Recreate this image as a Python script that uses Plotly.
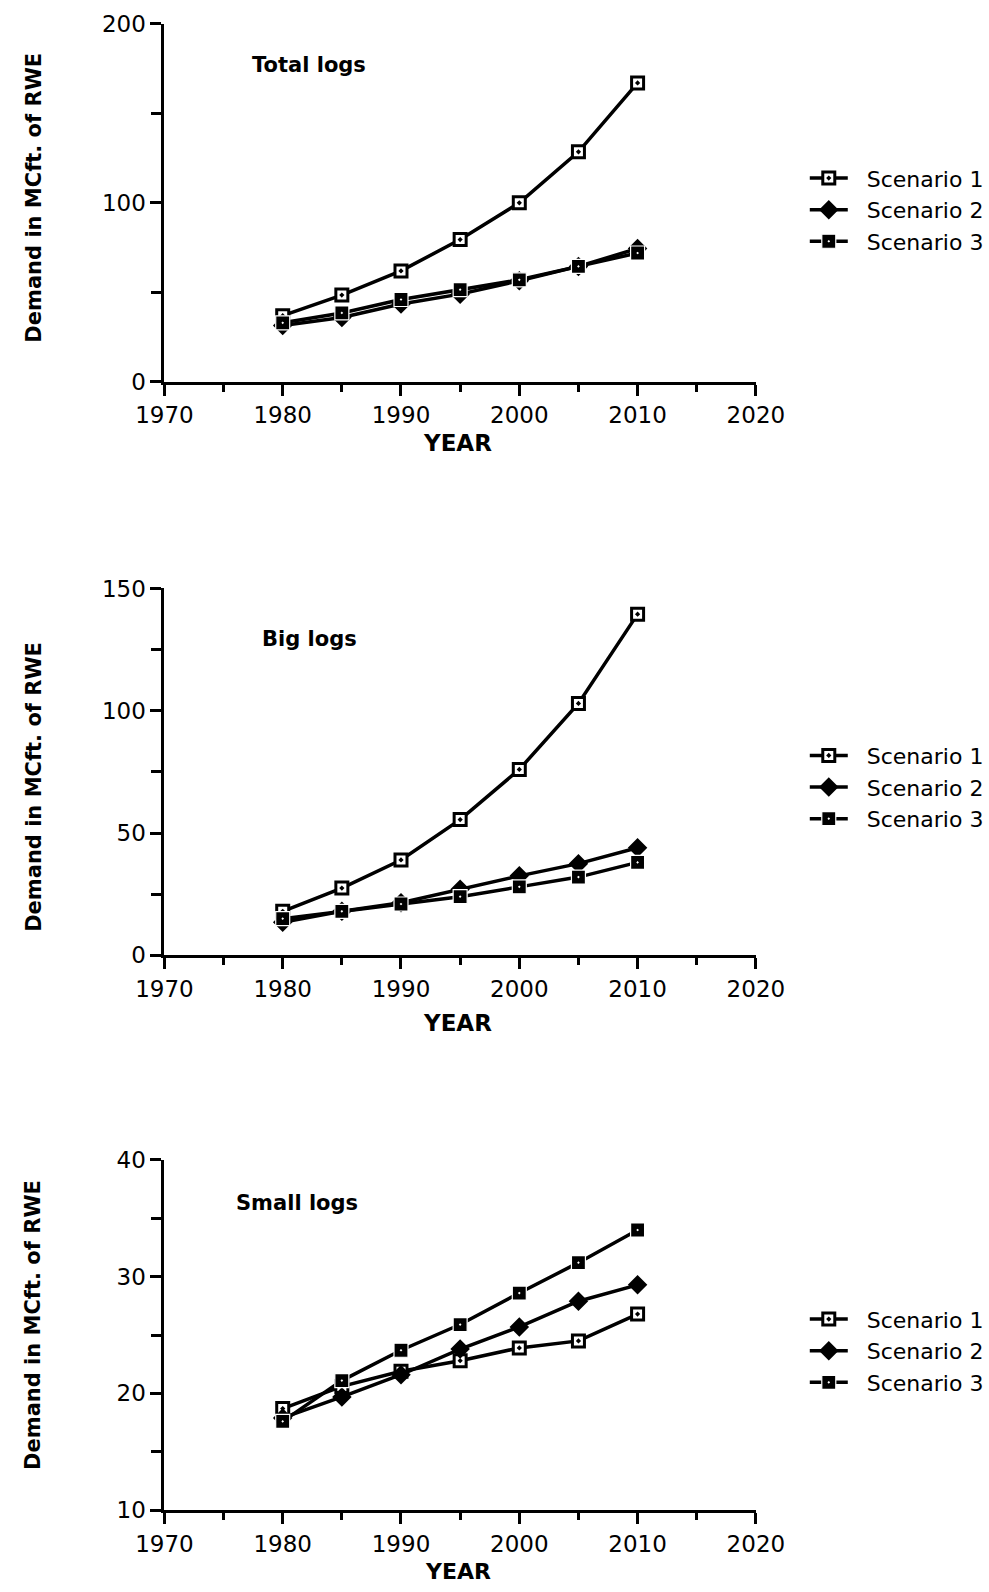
import plotly.graph_objects as go

W, H = 989, 1592

years = [1980, 1985, 1990, 1995, 2000, 2005, 2010]
x_tickvals = [1970, 1980, 1990, 2000, 2010, 2020]
scenario_names = ["Scenario 1", "Scenario 2", "Scenario 3"]

total_s1 = [37, 48.5, 62, 79.5, 100, 128.5, 167]
total_s2 = [31.5, 36, 43.5, 49, 56.5, 64.5, 74.5]
total_s3 = [33, 38.5, 46, 51.5, 57, 64.5, 72]

big_s1 = [18, 27.5, 39, 55.5, 76, 103, 139.5]
big_s2 = [13.5, 18, 21.5, 27, 32.5, 37.5, 44]
big_s3 = [15, 18, 21, 24, 28, 32, 38]

small_s1 = [18.7, 20.6, 21.9, 22.8, 23.9, 24.5, 26.8]
small_s2 = [17.9, 19.7, 21.6, 23.8, 25.7, 27.9, 29.3]
small_s3 = [17.6, 21.1, 23.7, 25.9, 28.6, 31.2, 34.0]

total_yticks = [0, 100, 200]
big_yticks = [0, 50, 100, 150]
small_yticks = [10, 20, 30, 40]

panel_titles = ["Total logs", "Big logs", "Small logs"]
y_title = "Demand in MCft. of RWE"
x_title = "YEAR"

FONT = "DejaVu Sans"

panels = [
    dict(title=panel_titles[0], series=[total_s1, total_s2, total_s3], yticks=total_yticks,
         minor=50, top=11, bottom=375, tx=235, ty=53, ly=200, yty=188, year_y=437, year_fs=23),
    dict(title=panel_titles[1], series=[big_s1, big_s2, big_s3], yticks=big_yticks,
         minor=25, top=585, bottom=958, tx=246, ty=636, ly=787, yty=787, year_y=1027, year_fs=23),
    dict(title=panel_titles[2], series=[small_s1, small_s2, small_s3], yticks=small_yticks,
         minor=5, top=1166, bottom=1522, tx=218, ty=1210, ly=1360, yty=1334, year_y=1584, year_fs=22),
]

markers = [
    dict(symbol="square-dot", size=12, color="white", line=dict(color="black", width=3)),
    dict(symbol="diamond", size=15, color="black", line=dict(color="black", width=0)),
    dict(symbol="square-dot", size=14, color="black", line=dict(color="white", width=1.2)),
]

NB = "\u00a0\u00a0"

fig = go.Figure()
annotations = []
layout = {}

for i, p in enumerate(panels):
    n = "" if i == 0 else str(i + 1)
    xa, ya = "x" + n, "y" + n
    leg = "legend" + n
    for k in range(3):
        fig.add_trace(go.Scatter(
            x=years, y=p["series"][k], name=NB + scenario_names[k],
            mode="lines+markers", xaxis=xa, yaxis=ya, legend=leg,
            line=dict(color="black", width=3.5),
            marker=markers[k], cliponaxis=False,
        ))
    yt = p["yticks"]
    layout["xaxis" + n] = dict(
        domain=[144 / W, 773 / W], anchor=ya, range=[1970, 2020],
        tickvals=x_tickvals, ticktext=[str(v) for v in x_tickvals],
        ticks="outside", ticklen=11, tickwidth=3, tickcolor="black",
        showline=True, linewidth=3, linecolor="black", showgrid=False, zeroline=False,
        tickfont=dict(family=FONT, size=23, color="black"),
        minor=dict(dtick=5, tick0=1970, ticks="outside", ticklen=7, tickwidth=3,
                   tickcolor="black", showgrid=False),
    )
    layout["yaxis" + n] = dict(
        domain=[1 - p["bottom"] / H, 1 - p["top"] / H], anchor=xa,
        range=[yt[0], yt[-1]], tickvals=yt, ticktext=[str(v) for v in yt],
        ticks="outside", ticklen=11, tickwidth=3, tickcolor="black",
        showline=True, linewidth=3, linecolor="black", showgrid=False, zeroline=False,
        tickfont=dict(family=FONT, size=23, color="black"),
        minor=dict(dtick=p["minor"], tick0=yt[0], ticks="outside", ticklen=10, tickwidth=3,
                   tickcolor="black", showgrid=False),
    )
    layout[leg] = dict(
        x=825 / W, y=1 - p["ly"] / H, xanchor="left", yanchor="middle",
        font=dict(family=FONT, size=22, color="black"), bgcolor="rgba(0,0,0,0)",
        itemwidth=38, borderwidth=0,
    )
    annotations.append(dict(text="<b>" + p["title"] + "</b>", x=p["tx"] / W, y=1 - p["ty"] / H,
                            xref="paper", yref="paper", xanchor="left", yanchor="middle",
                            showarrow=False, font=dict(family=FONT, size=21, color="black")))
    annotations.append(dict(text="<b>" + x_title + "</b>", x=456 / W,
                            y=1 - p["year_y"] / H,
                            xref="paper", yref="paper", xanchor="center", yanchor="middle",
                            showarrow=False, font=dict(family=FONT, size=p["year_fs"], color="black")))
    annotations.append(dict(text="<b>" + y_title + "</b>", x=5 / W, y=1 - p["yty"] / H,
                            xref="paper", yref="paper", xanchor="center", yanchor="middle",
                            textangle=-90, showarrow=False,
                            font=dict(family=FONT, size=21, color="black")))

fig.update_layout(
    width=W, height=H, margin=dict(l=0, r=0, t=0, b=0),
    paper_bgcolor="white", plot_bgcolor="white",
    annotations=annotations, showlegend=True, **layout,
)

fig.write_html("out.html")
